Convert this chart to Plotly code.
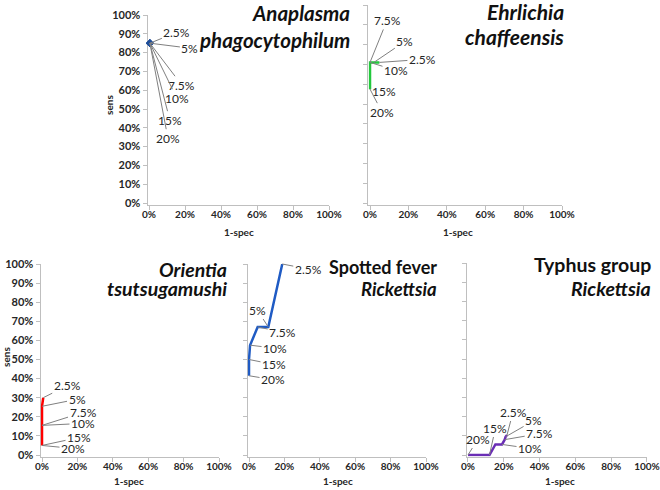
import plotly.graph_objects as go

# ---------------- data (values in percent) ----------------
THRESHOLDS = ["2.5%", "5%", "7.5%", "10%", "15%", "20%"]

ANA_X = [0.5, 0.5, 0.5, 0.5, 0.5, 0.5]
ANA_Y = [85.0, 85.0, 85.0, 85.0, 85.0, 85.0]

EHR_X = [4.9, 2.0, 0.0, 0.0, 0.0, 0.0]
EHR_Y = [71.0, 71.0, 71.0, 71.0, 57.5, 57.5]

ORI_X = [0.7, 0.0, 0.0, 0.0, 0.0, 0.0]
ORI_Y = [30.0, 25.5, 15.5, 15.5, 5.0, 5.0]

SFR_X = [18.8, 10.9, 4.9, 0.6, 0.0, 0.0]
SFR_Y = [100.0, 67.0, 67.0, 57.5, 50.0, 41.5]

TYP_X = [21.8, 21.0, 20.5, 19.0, 15.3, 12.0, 0.0]
TYP_Y = [10.4, 9.5, 8.0, 5.5, 5.5, 0.0, 0.0]
TYP_LABELS = ["2.5%", "5%", "7.5%", "10%", "", "15%", "20%"]

X_TICKS = [0, 20, 40, 60, 80, 100]
Y_TICKS = [0, 10, 20, 30, 40, 50, 60, 70, 80, 90, 100]

# ---------------- layout / style ----------------
W, H = 660, 490
RMIN = -0.8
FONT = "Lato"
AXIS_GRAY = "#BFBFBF"
LEADER_GRAY = "#808080"
TEXT = "#262626"

panels = [
    dict(x=ANA_X, y=ANA_Y, labels=THRESHOLDS, color="#1F4E9A", marker=True,
         px=(149, 329), py=(203, 15), ylab=True,
         offs=[(27, -11), (40, 5), (32, 42), (27, 55), (20, 77), (18, 95)],
         title=[("<b><i>Anaplasma</i></b>", 13, 20.5), ("<b><i>phagocytophilum</i></b>", 40, 20.5)],
         tright=352, sens=(109, 105), spec=(239, 232), lsize=12),
    dict(x=EHR_X, y=EHR_Y, labels=THRESHOLDS, color="#22C83C", marker=False,
         px=(370, 562), py=(203, 5), ylab=False,
         offs=[(43, -3), (31, -21), (17, -42), (26, 8), (14, 2), (12, 23)],
         title=[("<b><i>Ehrlichia</i></b>", 11, 21), ("<b><i>chaffeensis</i></b>", 36, 21)],
         tright=566, sens=None, spec=(458, 232), lsize=12),
    dict(x=ORI_X, y=ORI_Y, labels=THRESHOLDS, color="#FF0000", marker=False,
         px=(42, 219), py=(455, 264), ylab=True,
         offs=[(24, -12), (35, -7), (41, -13), (41, -2), (37, -8), (31, 3)],
         title=[("<b><i>Orientia</i></b>", 269, 19.5), ("<b><i>tsutsugamushi</i></b>", 288, 19.5)],
         tright=229, sens=(6, 357), spec=(129, 481), lsize=12),
    dict(x=SFR_X, y=SFR_Y, labels=THRESHOLDS, color="#1F5BC4", marker=False,
         px=(249, 426), py=(455, 264), ylab=False,
         offs=[(26, 5), (-11, -17), (25, 5), (25, 3), (25, 5), (24, 4)],
         title=[("<b>Spotted fever</b>", 267, 18), ("<b><i>Rickettsia</i></b>", 289, 18.5)],
         tright=439, sens=None, spec=(338, 481), lsize=12),
    dict(x=TYP_X, y=TYP_Y, labels=TYP_LABELS, color="#6A2DB5", marker=False,
         px=(468, 647), py=(455, 263), ylab=False,
         offs=[(6, -23), (28, -16), (35, -6), (28, 4), (0, 0), (6, -27), (10, -16)],
         title=[("<b>Typhus group</b>", 264, 19.5), ("<b><i>Rickettsia</i></b>", 288, 19.5)],
         tright=653, sens=None, spec=(560, 481), lsize=12),
]

fig = go.Figure()
annotations = []
layout_axes = {}

for i, p in enumerate(panels, start=1):
    sx = "" if i == 1 else str(i)
    xs = (p["px"][1] - p["px"][0]) / 100.0
    ys = (p["py"][0] - p["py"][1]) / 100.0
    xd0 = (p["px"][0] + RMIN * xs) / W
    xd1 = p["px"][1] / W
    yd0 = 1 - (p["py"][0] - RMIN * ys) / H
    yd1 = 1 - p["py"][1] / H

    layout_axes["xaxis" + sx] = dict(
        domain=[xd0, xd1], range=[RMIN, 100], anchor="y" + sx, automargin=False,
        tickvals=X_TICKS, ticktext=[f"{v}%" for v in X_TICKS],
        showgrid=False, zeroline=False, showline=True, linecolor=AXIS_GRAY,
        linewidth=1, ticks="outside", ticklen=4, tickcolor=AXIS_GRAY,
        ticklabelstandoff=-4,
        tickfont=dict(family=FONT, size=10, color=TEXT, weight="bold"),
        layer="below traces", fixedrange=True,
    )
    layout_axes["yaxis" + sx] = dict(
        domain=[yd0, yd1], range=[RMIN, 100], anchor="x" + sx, automargin=False,
        tickvals=Y_TICKS, ticktext=[f"{v}%" for v in Y_TICKS],
        showticklabels=p["ylab"],
        showgrid=False, zeroline=False, showline=True, linecolor=AXIS_GRAY,
        linewidth=1, ticks="outside", ticklen=4, tickcolor=AXIS_GRAY,
        tickfont=dict(family=FONT, size=11, color=TEXT, weight="bold"),
        layer="below traces", fixedrange=True,
    )

    fig.add_trace(go.Scatter(
        x=p["x"], y=p["y"], xaxis="x" + sx, yaxis="y" + sx,
        mode="lines+markers" if p["marker"] else "lines",
        line=dict(color=p["color"], width=2.5),
        marker=dict(size=6, color=p["color"], symbol="diamond"),
        showlegend=False, hoverinfo="skip", cliponaxis=False,
    ))

    for xv, yv, lab, (ax, ay) in zip(p["x"], p["y"], p["labels"], p["offs"]):
        if not lab:
            continue
        annotations.append(dict(
            x=xv, y=yv, xref="x" + sx, yref="y" + sx, text=lab,
            showarrow=True, arrowhead=0, arrowwidth=1, arrowcolor=LEADER_GRAY,
            standoff=0, ax=ax, ay=ay,
            font=dict(family=FONT, size=p["lsize"], color=TEXT),
        ))

    for txt, yc, ts in p["title"]:
        annotations.append(dict(
            x=p["tright"] / W, y=1 - yc / H, xref="paper", yref="paper",
            xanchor="right", yanchor="middle", text=txt, showarrow=False,
            font=dict(family=FONT, size=ts, color="#111111"),
        ))

    if p["sens"]:
        annotations.append(dict(
            x=p["sens"][0] / W, y=1 - p["sens"][1] / H, xref="paper", yref="paper",
            text="<b>sens</b>", textangle=-90, showarrow=False,
            xanchor="center", yanchor="middle",
            font=dict(family=FONT, size=10, color=TEXT),
        ))
    annotations.append(dict(
        x=p["spec"][0] / W, y=1 - p["spec"][1] / H, xref="paper", yref="paper",
        text="<b>1-spec</b>", showarrow=False, xanchor="center", yanchor="middle",
        font=dict(family=FONT, size=10, color=TEXT),
    ))

fig.update_layout(
    width=W, height=H, margin=dict(l=0, r=0, t=0, b=0, autoexpand=False),
    paper_bgcolor="white", plot_bgcolor="rgba(0,0,0,0)",
    annotations=annotations, showlegend=False,
    **layout_axes,
)

fig.write_html(
    "out.html",
    config={"displayModeBar": False},
    post_script="document.body.style.margin='0';document.body.style.padding='0';",
)
